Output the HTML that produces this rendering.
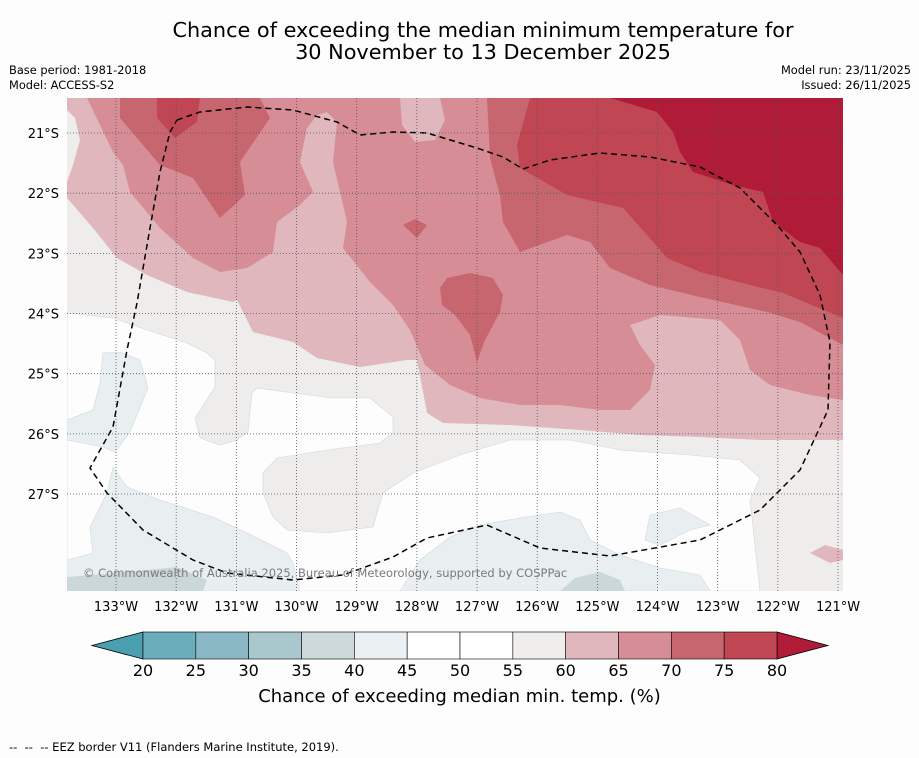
<!DOCTYPE html>
<html><head><meta charset="utf-8">
<style>
html,body{margin:0;padding:0;background:#fdfdfd;}
body{width:919px;height:758px;position:relative;overflow:hidden;font-family:"Liberation Sans","DejaVu Sans",sans-serif;}
.t{position:absolute;color:#000;}
</style></head>
<body>
<div class="t" style="left:0;width:966px;top:19px;text-align:center;font-size:20.8px;line-height:22px;font-family:'DejaVu Sans',sans-serif;">Chance of exceeding the median minimum temperature for<br>30 November to 13 December 2025</div>
<div class="t" style="left:9px;top:63px;font-size:11.4px;line-height:15px;font-family:'DejaVu Sans',sans-serif;">Base period: 1981-2018<br>Model: ACCESS-S2</div>
<div class="t" style="right:8px;top:63px;font-size:11.4px;line-height:15px;text-align:right;font-family:'DejaVu Sans',sans-serif;">Model run: 23/11/2025<br>Issued: 26/11/2025</div>
<svg id="map" width="919" height="758" style="position:absolute;left:0;top:0" xmlns="http://www.w3.org/2000/svg">
<defs><clipPath id="mc"><rect x="67" y="98" width="776" height="493"/></clipPath></defs>
<g id="fill" clip-path="url(#mc)"></g>
<g id="grid" clip-path="url(#mc)"></g>
<g id="labels"></g>
<g id="cbar"></g>
</svg>
<div class="t" style="left:83px;top:566px;font-size:11.5px;color:#7a7a7a;font-family:'DejaVu Sans',sans-serif;">© Commonwealth of Australia 2025, Bureau of Meteorology, supported by COSPPac</div>
<div class="t" style="left:0;width:919px;top:686px;text-align:center;font-size:18px;font-family:'DejaVu Sans',sans-serif;">Chance of exceeding median min. temp. (%)</div>
<div class="t" style="left:9px;top:740px;font-size:11.5px;white-space:pre;font-family:'DejaVu Sans',sans-serif;">--  --  -- EEZ border V11 (Flanders Marine Institute, 2019).</div>
<script>
const lonTicks=[133,132,131,130,129,128,127,126,125,124,123,122,121];
const latTicks=[21,22,23,24,25,26,27];
const levels=[20,25,30,35,40,45,50,55,60,65,70,75,80];
const levelColors=["#6aadbb","#8ab9c5","#a9c8ce","#cdd9db","#ebf0f2","#ffffff","#ffffff","#efeeec","#e0b7bc","#d68d95","#c8666f","#c04654"];
const NS="http://www.w3.org/2000/svg";
function xLon(w){return 116+(133-w)*60.17;}
function yLat(s){return 133+(s-21)*60.17;}
function mk(tag,attrs,parent){const e=document.createElementNS(NS,tag);for(const k in attrs)e.setAttribute(k,attrs[k]);parent.appendChild(e);return e;}
const fill=document.getElementById('fill');
const shapes=[
 ["bg-55-60","#eeedeb",[[67,98],[843,98],[843,591],[67,591]]],
 ["region-50-55","#fdfdfd",[[67,313],[113,318],[147,330],[187,343],[207,353],[215,360],[215,387],[195,418],[200,438],[220,445],[237,440],[248,432],[252,393],[257,388],[293,393],[333,398],[370,398],[393,417],[393,433],[380,443],[327,450],[277,458],[263,473],[263,493],[273,517],[287,530],[327,533],[373,527],[383,493],[413,473],[460,455],[510,440],[570,440],[620,450],[690,455],[740,460],[760,478],[750,500],[760,591],[67,591]]],
 ["region-40-45-left","#e9eff1",[[103,353],[120,352],[140,360],[148,388],[130,432],[115,452],[103,447],[67,440],[67,420],[93,410],[100,383]]],
 ["region-40-45-bottom-left","#e9eff1",[[113,467],[127,487],[160,500],[213,517],[247,533],[287,553],[293,563],[300,591],[67,591],[67,560],[93,553],[90,527],[107,493]]],
 ["region-35-40-bottom-left","#cbd8da",[[67,577],[127,572],[177,567],[207,580],[203,591],[67,591]]],
 ["region-40-45-bottom-center","#e9eff1",[[400,591],[420,560],[450,537],[480,525],[520,518],[560,512],[580,520],[590,540],[620,555],[660,568],[700,575],[710,591]]],
 ["region-40-45-right","#e9eff1",[[650,515],[680,508],[710,525],[690,530],[660,545],[645,540]]],
 ["region-35-40-bottom-center","#cbd8da",[[560,591],[575,578],[600,572],[620,580],[625,591]]],
 ["region-60-65","#e0b7bc",[[67,98],[843,98],[843,440],[760,440],[700,437],[640,435],[580,430],[510,425],[443,423],[427,413],[417,360],[407,360],[360,367],[317,358],[293,342],[253,332],[237,300],[233,302],[187,292],[147,275],[117,258],[93,228],[67,198]]],
 ["region-55-60-topleft","#eeedeb",[[67,110],[75,118],[80,140],[73,165],[67,182]]],
 ["region-60-65-bottomright","#e0b7bc",[[810,553],[825,545],[843,550],[843,560],[830,563]]],
 ["region-65-70","#d68d95",[[87,98],[113,152],[123,165],[130,192],[160,228],[193,258],[220,272],[247,268],[273,252],[277,222],[300,205],[313,192],[300,162],[307,128],[317,115],[327,112],[337,122],[333,162],[347,222],[343,248],[370,282],[393,305],[410,330],[425,365],[450,385],[480,398],[520,405],[560,405],[600,410],[630,410],[650,390],[655,365],[640,345],[630,325],[660,315],[720,320],[740,340],[750,370],[770,385],[810,395],[843,400],[843,98]]],
 ["region-60-65-top","#e0b7bc",[[400,98],[440,98],[445,120],[435,140],[415,142],[402,125]]],
 ["region-70-75-topleft","#c8666f",[[120,98],[120,118],[160,165],[193,178],[220,218],[245,195],[240,162],[270,118],[260,98]]],
 ["region-75-80-topleft","#c04654",[[157,98],[157,118],[175,138],[197,122],[200,98]]],
 ["region-70-75-dot","#c8666f",[[403,225],[415,219],[427,225],[417,238]]],
 ["region-70-75-center","#c8666f",[[440,288],[447,278],[470,273],[493,278],[503,295],[500,312],[485,340],[477,362],[470,335],[455,315],[442,305]]],
 ["region-70-75-right","#c8666f",[[487,98],[490,158],[500,195],[503,222],[520,252],[567,235],[590,242],[610,268],[650,285],[700,297],[767,312],[800,322],[843,345],[843,98]]],
 ["region-75-80-right","#c04654",[[530,98],[517,145],[520,168],[567,195],[623,208],[647,235],[667,258],[700,272],[750,285],[783,293],[843,318],[843,98]]],
 ["region-80-plus","#b01c38",[[610,98],[657,112],[673,132],[680,152],[693,172],[733,185],[763,192],[773,222],[800,242],[820,248],[843,275],[843,98]]]
];
shapes.forEach(s=>{
 const p=mk('polygon',{points:s[2].map(q=>q.join(',')).join(' '),fill:s[1],stroke:s[1]==="#fdfdfd"||s[1]==="#e9eff1"?"#cfd8db":"none","stroke-width":0.6},fill);
 
 
});
const eez=[[177,120],[200,112],[247,107],[293,110],[337,122],[360,135],[393,132],[427,133],[477,148],[503,157],[523,169],[550,160],[600,153],[650,157],[700,167],[740,188],[777,225],[800,252],[820,295],[830,342],[828,410],[800,470],[760,510],[700,540],[610,556],[540,548],[510,535],[487,525],[427,538],[393,557],[343,575],[293,580],[227,573],[193,560],[143,530],[107,493],[90,468],[113,427],[127,350],[137,303],[150,228],[160,172],[170,132],[177,120]];
const eezEl=mk('polyline',{points:eez.map(q=>q.join(',')).join(' '),fill:'none',stroke:'#000','stroke-width':1.5,'stroke-dasharray':'6,4'},fill);


const grid=document.getElementById('grid');
lonTicks.forEach(w=>{const l=mk('line',{x1:xLon(w),x2:xLon(w),y1:98,y2:591,stroke:'#555','stroke-width':0.8,'stroke-dasharray':'1,2'},grid);
 
 });
latTicks.forEach(s=>{const l=mk('line',{x1:67,x2:843,y1:yLat(s),y2:yLat(s),stroke:'#556','stroke-width':0.8,'stroke-dasharray':'1,2'},grid);
 
 });
const lab=document.getElementById('labels');
lonTicks.forEach(w=>{const t=mk('text',{x:xLon(w),y:611,'text-anchor':'middle','font-size':13,'font-family':'DejaVu Sans, sans-serif',fill:'#000'},lab);t.textContent=w+'°W';
 
 });
latTicks.forEach(s=>{const t=mk('text',{x:59,y:yLat(s)+5,'text-anchor':'end','font-size':13,'font-family':'DejaVu Sans, sans-serif',fill:'#000'},lab);t.textContent=s+'°S';
 
 });
const cb=document.getElementById('cbar');
const cx0=143,cx1=777,cy0=632,cy1=659,bw=(cx1-cx0)/levelColors.length;
const lt=mk('polygon',{points:`${cx0},${cy0} ${cx0},${cy1} 92,${(cy0+cy1)/2}`,fill:'#4aa0b0',stroke:'#000','stroke-width':0.8},cb);


const rt=mk('polygon',{points:`${cx1},${cy0} ${cx1},${cy1} 828,${(cy0+cy1)/2}`,fill:'#b01c38',stroke:'#000','stroke-width':0.8},cb);


levelColors.forEach((c,i)=>{const r=mk('rect',{x:cx0+i*bw,y:cy0,width:bw,height:cy1-cy0,fill:c,stroke:'#000','stroke-width':0.6},cb);
 
 });
levels.forEach((v,i)=>{const t=mk('text',{x:cx0+i*bw,y:676,'text-anchor':'middle','font-size':16,'font-family':'DejaVu Sans, sans-serif',fill:'#000'},cb);t.textContent=v;
 
 });
</script>
</body></html>
